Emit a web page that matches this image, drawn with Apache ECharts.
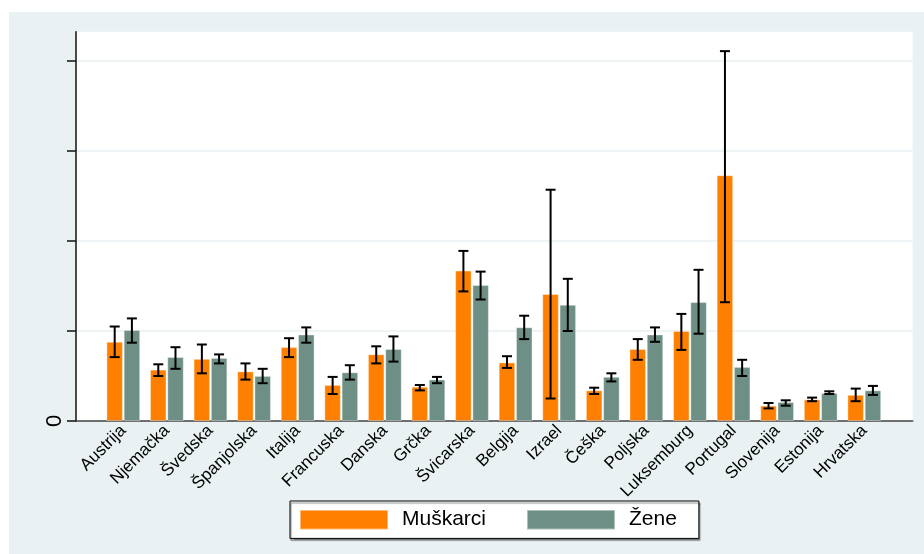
<!DOCTYPE html>
<html>
<head>
<meta charset="utf-8">
<script src="https://cdn.jsdelivr.net/npm/echarts@6/dist/echarts.min.js"></script>
<style>
html,body{margin:0;padding:0;background:#fff;}
#chart{width:924px;height:554px;}
</style>
</head>
<body>
<div id="chart"></div>
<script>
const categories = ['Austrija','Njemačka','Švedska','Španjolska','Italija','Francuska','Danska','Grčka','Švicarska','Belgija','Izrael','Češka','Poljska','Luksemburg','Portugal','Slovenija','Estonija','Hrvatska'];

const muskarci     = [0.88,0.57,0.69,0.55,0.82,0.40,0.74,0.38,1.67,0.65,1.41,0.34,0.80,1.00,2.73,0.17,0.24,0.29];
const muskarciLow  = [0.71,0.50,0.53,0.46,0.71,0.30,0.64,0.34,1.44,0.59,0.25,0.30,0.68,0.79,1.32,0.14,0.22,0.22];
const muskarciHigh = [1.05,0.63,0.85,0.64,0.92,0.49,0.83,0.40,1.89,0.72,2.57,0.37,0.91,1.19,4.11,0.20,0.26,0.36];

const zene     = [1.01,0.71,0.70,0.50,0.96,0.54,0.80,0.46,1.51,1.04,1.29,0.49,0.96,1.32,0.60,0.21,0.31,0.34];
const zeneLow  = [0.87,0.58,0.64,0.42,0.87,0.46,0.66,0.42,1.35,0.91,1.00,0.44,0.88,0.97,0.50,0.17,0.30,0.29];
const zeneHigh = [1.14,0.82,0.74,0.58,1.04,0.62,0.94,0.49,1.66,1.17,1.58,0.53,1.04,1.68,0.68,0.23,0.33,0.39];

const yTicks = [0,1,2,3,4];
const yMax = 4.326;

const ORANGE = '#FF8000';
const GREEN = '#6E8F85';
const BARW = 16.3;
const OFFSET = 8.6;
const FONT = "'Liberation Sans', Arial, sans-serif";

function errSeries(name, lows, highs, dir) {
  return {
    type: 'custom',
    name: name + '_err',
    xAxisIndex: 1, yAxisIndex: 1,
    silent: true,
    z: 5,
    data: categories.map((c, i) => [i, lows[i], highs[i]]),
    encode: { x: 0, y: [1, 2] },
    renderItem: function (params, api) {
      const i = api.value(0);
      const lo = api.coord([i, api.value(1)]);
      const hi = api.coord([i, api.value(2)]);
      const x = lo[0] + dir * OFFSET;
      const cap = 5;
      const st = { stroke: '#000', lineWidth: 2 };
      return {
        type: 'group',
        children: [
          { type: 'line', shape: { x1: x, y1: hi[1], x2: x, y2: lo[1] }, style: st },
          { type: 'line', shape: { x1: x - cap, y1: hi[1], x2: x + cap, y2: hi[1] }, style: st },
          { type: 'line', shape: { x1: x - cap, y1: lo[1], x2: x + cap, y2: lo[1] }, style: st }
        ]
      };
    }
  };
}

const chart = echarts.init(document.getElementById('chart'));
chart.setOption({
  backgroundColor: '#fff',
  animation: false,
  textStyle: { fontFamily: FONT },
  graphic: [{
    type: 'rect', z: -100, silent: true,
    shape: { x: 9, y: 12, width: 915, height: 542 },
    style: { fill: '#E9F1F3' }
  }],
  grid: [
    { left: 76, right: 11.3, top: 31.7, bottom: 133, show: true, backgroundColor: '#fff', borderWidth: 0 },
    { left: 101.5, right: 37.9, top: 31.7, bottom: 133 }
  ],
  legend: {
    data: ['Muškarci', 'Žene'],
    left: 290, top: 501,
    orient: 'horizontal',
    itemWidth: 88, itemHeight: 19.4,
    itemGap: 40,
    padding: [8, 22, 8, 9],
    backgroundColor: '#fff',
    borderColor: '#000', borderWidth: 1,
    shadowColor: 'rgba(0,0,0,0.45)', shadowBlur: 1, shadowOffsetX: 1, shadowOffsetY: 2,
    icon: 'rect',
    textStyle: { fontSize: 21, color: '#000', fontFamily: FONT, padding: [0, 0, 0, 9], lineHeight: 19 }
  },
  xAxis: [
    {
      gridIndex: 0, type: 'value', min: 0, max: 1,
      axisLine: { show: true, lineStyle: { color: '#444', width: 1.5 } },
      axisTick: { show: false }, axisLabel: { show: false }, splitLine: { show: false }
    },
    {
      gridIndex: 1, type: 'category', data: categories,
      axisLine: { show: false }, axisTick: { show: false }, splitLine: { show: false },
      axisLabel: { rotate: 45, fontSize: 17, color: '#000', margin: 7, interval: 0, fontFamily: FONT }
    }
  ],
  yAxis: [
    {
      gridIndex: 0, type: 'value', min: 0, max: yMax,
      axisLine: { show: true, lineStyle: { color: '#111', width: 1.5 } },
      axisTick: { show: true, length: 9, customValues: yTicks, lineStyle: { color: '#111', width: 1.5 } },
      axisLabel: {
        customValues: [0], rotate: 90, fontSize: 22, color: '#000', margin: 10, fontFamily: FONT,
        formatter: v => (v === 0 ? '0' : '')
      },
      splitLine: { show: true, lineStyle: { color: '#E8F0F2', width: 1.5 } }
    },
    {
      gridIndex: 1, type: 'value', min: 0, max: yMax, show: false,
      splitLine: { show: false }
    }
  ],
  series: [
    {
      name: 'Muškarci', type: 'bar', xAxisIndex: 1, yAxisIndex: 1,
      data: muskarci, barWidth: BARW, barGap: '6%',
      itemStyle: { color: ORANGE, borderColor: 'rgba(255,255,255,0.45)', borderWidth: 0.8 }
    },
    {
      name: 'Žene', type: 'bar', xAxisIndex: 1, yAxisIndex: 1,
      data: zene, barWidth: BARW, barGap: '6%',
      itemStyle: { color: GREEN, borderColor: 'rgba(255,255,255,0.45)', borderWidth: 0.8 }
    },
    errSeries('Muškarci', muskarciLow, muskarciHigh, -1),
    errSeries('Žene', zeneLow, zeneHigh, 1)
  ]
});
</script>
</body>
</html>
